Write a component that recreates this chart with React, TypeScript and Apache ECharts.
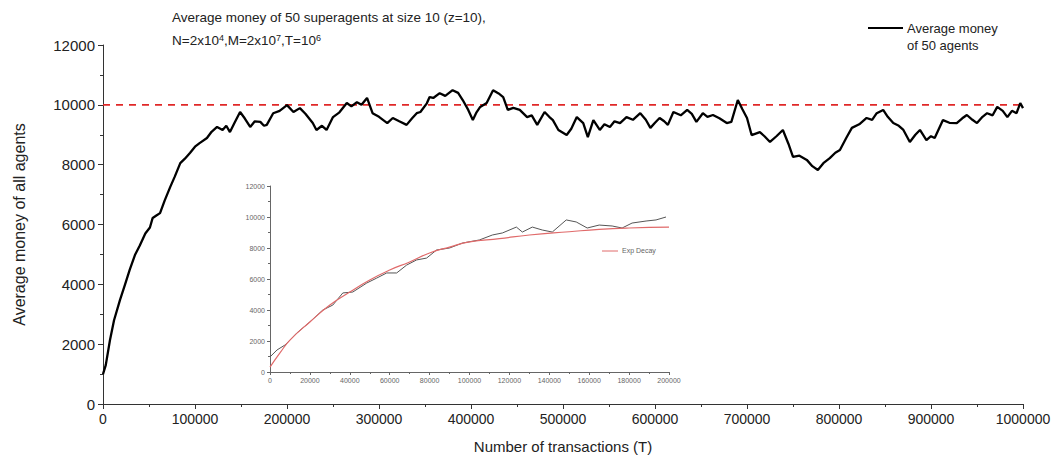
import React, { useEffect, useRef } from "react";
import * as echarts from "echarts";

// Average money of the 50 superagents over the full run
const mainT = [
  0, 3000, 7600, 12000, 18500, 24000, 29000, 35000, 40000, 46000, 51000, 54000, 58000, 62000, 67000,
  73000, 78000, 84000, 89000, 94500, 100000, 105000, 113000, 118000, 124000, 130000, 134000, 138000,
  143000, 149000, 154000, 160000, 165000, 171000, 175000, 178000, 185000, 192000, 200000, 207000,
  214000, 220000, 228000, 232000, 238000, 243000, 250000, 257000, 265000, 270000, 276000, 281000,
  287000, 293000, 300000, 309000, 315000, 322000, 330000, 336000, 341000, 345000, 352000, 355000,
  359000, 366000, 372000, 380000, 386000, 391000, 397000, 402000, 406000, 410000, 417000, 424000,
  430000, 435000, 440000, 446000, 453000, 461000, 466000, 472000, 480000, 485000, 489000, 495000,
  504000, 509000, 515000, 522000, 527000, 533000, 540000, 545000, 551000, 556000, 562000, 569000,
  576000, 584000, 590000, 595000, 600000, 605000, 610000, 614000, 620000, 628000, 635000, 640000,
  645000, 652000, 657000, 663000, 670000, 678000, 683000, 690000, 695000, 700000, 705000, 714000,
  719000, 725000, 732000, 739000, 745000, 750000, 757000, 765000, 771000, 777000, 783000, 790000,
  796000, 801000, 808000, 814000, 822000, 830000, 836000, 841000, 848000, 853000, 859000, 865000,
  870000, 877000, 883000, 888000, 895000, 900000, 904000, 913000, 920000, 928000, 934000, 939000,
  945000, 950000, 956000, 961000, 967000, 972000, 978000, 983000, 988000, 993000, 997000, 1000000,
];
const mainV = [
  1000, 1300, 2140, 2800, 3480, 4000, 4480, 5000, 5300, 5700, 5900, 6220, 6300, 6380, 6800,
  7250, 7600, 8050, 8200, 8390, 8600, 8720, 8890, 9100, 9260, 9160, 9300, 9090,
  9400, 9760, 9550, 9260, 9450, 9430, 9300, 9330, 9720, 9800, 9990, 9760,
  9890, 9700, 9390, 9160, 9300, 9160, 9590, 9750, 10060, 9950, 10090, 10000,
  10230, 9720, 9600, 9390, 9560, 9450, 9330, 9550, 9720, 9760, 10050, 10260,
  10230, 10390, 10300, 10490, 10400, 10160, 9830, 9490, 9750, 9930, 10060, 10490,
  10380, 10260, 9830, 9900, 9830, 9590, 9650, 9330, 9760, 9600, 9490, 9160,
  8990, 9200, 9590, 9390, 8920, 9490, 9160, 9350, 9260, 9450, 9390, 9590,
  9500, 9720, 9500, 9230, 9400, 9560, 9450, 9330, 9760, 9650, 9830, 9700,
  9430, 9720, 9600, 9660, 9550, 9390, 9430, 10160, 9850, 9560, 8990, 9090,
  8950, 8760, 8950, 9160, 8700, 8260, 8300, 8160, 7950, 7820, 8050, 8220,
  8400, 8490, 8900, 9230, 9350, 9560, 9500, 9720, 9830, 9600, 9390, 9300,
  9160, 8760, 9000, 9160, 8820, 8950, 8890, 9490, 9400, 9390, 9550, 9660,
  9500, 9390, 9600, 9720, 9650, 9930, 9800, 9590, 9800, 9720, 10060, 9890,
];

// Reference level (average money per agent, M / N)
const equilibriumLevel = 10000;

// Inset: first 200000 transactions
const insetT = [
  0, 3500, 7500, 10000, 13500, 20000, 26500, 31500, 36500, 41500, 48500, 53500, 58500, 63500,
  68500, 73500, 78500, 83500, 90000, 96500, 105000, 111500, 116500, 123500, 126500, 131500,
  136500, 141500, 148500, 153500, 159000, 165000, 171500, 176500, 181500, 188500, 193500, 198500,
];
const insetV = [
  970, 1420, 1740, 2060, 2520, 3230, 4000, 4320, 5100, 5160, 5740, 6060, 6390, 6390,
  6900, 7230, 7350, 7870, 8000, 8320, 8520, 8840, 8970, 9350, 9030, 9350,
  9160, 9030, 9810, 9680, 9290, 9480, 9420, 9290, 9610, 9740, 9810, 10000,
];

// Exponential-decay fit over the inset range
const fitT = [
  0, 5000, 10000, 20000, 30000, 40000, 50000, 60000, 70000, 80000, 90000, 100000, 115000, 130000,
  150000, 165000, 180000, 200000,
];
const fitV = [
  320, 1230, 2060, 3230, 4320, 5160, 5940, 6580, 7100, 7680, 8060, 8390, 8600, 8840,
  9050, 9200, 9290, 9350,
];

const FONT = "'Liberation Sans', Arial, sans-serif";

const pairs = (xs: number[], ys: number[]) => xs.map((x, i) => [x, ys[i]]);
const plain = (v: number) => String(v);

export default function App() {
  const ref = useRef<HTMLDivElement>(null);

  useEffect(() => {
    if (!ref.current) return;
    const chart = echarts.init(ref.current, undefined, { renderer: "svg" });

    const axisCommon = {
      axisLine: { show: true, onZero: false, lineStyle: { color: "#333", width: 1 } },
      axisTick: { show: true, inside: false, length: 5, lineStyle: { color: "#333" } },
      minorTick: { show: true, splitNumber: 2, length: 3, lineStyle: { color: "#333" } },
      splitLine: { show: false },
      minorSplitLine: { show: false },
    };

    const insetAxis = {
      axisLine: { show: true, onZero: false, lineStyle: { color: "#666", width: 1 } },
      axisTick: { show: true, inside: false, length: 3, lineStyle: { color: "#666" } },
      minorTick: { show: true, splitNumber: 2, length: 2, lineStyle: { color: "#666" } },
      splitLine: { show: false },
      minorSplitLine: { show: false },
    };

    chart.setOption({
      animation: false,
      backgroundColor: "#fff",
      textStyle: { fontFamily: FONT },
      grid: [
        { left: 103, right: 32, top: 45, bottom: 59 },
        { left: 270, top: 186, width: 399, height: 186 },
      ],
      xAxis: [
        {
          type: "value",
          gridIndex: 0,
          min: 0,
          max: 1000000,
          interval: 100000,
          ...axisCommon,
          axisLabel: { fontSize: 14, color: "#222", margin: 8, fontFamily: FONT, formatter: plain },
          name: "Number of transactions (T)",
          nameLocation: "middle",
          nameGap: 35,
          nameTextStyle: { fontSize: 15, color: "#222", fontFamily: FONT },
        },
        {
          type: "value",
          gridIndex: 1,
          min: 0,
          max: 200000,
          interval: 20000,
          ...insetAxis,
          axisLabel: { fontSize: 7, color: "#666", margin: 5, fontFamily: FONT, formatter: plain },
        },
      ],
      yAxis: [
        {
          type: "value",
          gridIndex: 0,
          min: 0,
          max: 12000,
          interval: 2000,
          ...axisCommon,
          axisLabel: { fontSize: 15, color: "#222", margin: 8, fontFamily: FONT, formatter: plain },
          name: "Average money of all agents",
          nameLocation: "middle",
          nameGap: 76,
          nameTextStyle: { fontSize: 16, color: "#222", fontFamily: FONT },
        },
        {
          type: "value",
          gridIndex: 1,
          min: 0,
          max: 12000,
          interval: 2000,
          ...insetAxis,
          axisLabel: { fontSize: 7, color: "#666", margin: 5, fontFamily: FONT, formatter: plain },
        },
      ],
      series: [
        {
          type: "line",
          name: "level",
          xAxisIndex: 0,
          yAxisIndex: 0,
          data: [
            [0, equilibriumLevel],
            [1000000, equilibriumLevel],
          ],
          showSymbol: false,
          lineStyle: { color: "#e02828", width: 1.6, type: [7, 6] },
          silent: true,
        },
        {
          type: "line",
          name: "Average money of 50 agents",
          xAxisIndex: 0,
          yAxisIndex: 0,
          data: pairs(mainT, mainV),
          showSymbol: false,
          lineStyle: { color: "#000", width: 2.3 },
        },
        {
          type: "line",
          name: "inset data",
          xAxisIndex: 1,
          yAxisIndex: 1,
          data: pairs(insetT, insetV),
          showSymbol: false,
          lineStyle: { color: "#555", width: 1 },
        },
        {
          type: "line",
          name: "Exp Decay",
          xAxisIndex: 1,
          yAxisIndex: 1,
          data: pairs(fitT, fitV),
          smooth: true,
          showSymbol: false,
          lineStyle: { color: "#e06a6a", width: 1.2 },
        },
      ],
      graphic: [
        {
          type: "text",
          left: 172,
          top: 10,
          style: {
            text: "Average money of 50 superagents at size 10 (z=10),",
            font: `13.5px ${FONT}`,
            fill: "#222",
          },
        },
        {
          type: "text",
          left: 172,
          top: 33,
          style: {
            text: "N=2x10{sup|4},M=2x10{sup|7},T=10{sup|6}",
            font: `13.5px ${FONT}`,
            fill: "#222",
            rich: {
              sup: { fontSize: 9, fontFamily: FONT, fill: "#222", verticalAlign: "top", padding: [0, 0, 6, 0] },
            },
          },
        },
        {
          type: "line",
          shape: { x1: 868, y1: 28, x2: 903, y2: 28 },
          style: { stroke: "#000", lineWidth: 2 },
        },
        {
          type: "text",
          left: 907,
          top: 20,
          style: {
            text: "Average money\nof 50 agents",
            font: `13px ${FONT}`,
            lineHeight: 17,
            fill: "#222",
          },
        },
        {
          type: "line",
          shape: { x1: 602, y1: 251, x2: 618, y2: 251 },
          style: { stroke: "#e06a6a", lineWidth: 1 },
        },
        {
          type: "text",
          left: 622,
          top: 247,
          style: { text: "Exp Decay", font: `7px ${FONT}`, fill: "#666" },
        },
      ],
    });

    return () => chart.dispose();
  }, []);

  return (
    <div
      ref={ref}
      style={{ position: "fixed", left: 0, top: 0, width: 1055, height: 463, background: "#fff" }}
    />
  );
}
